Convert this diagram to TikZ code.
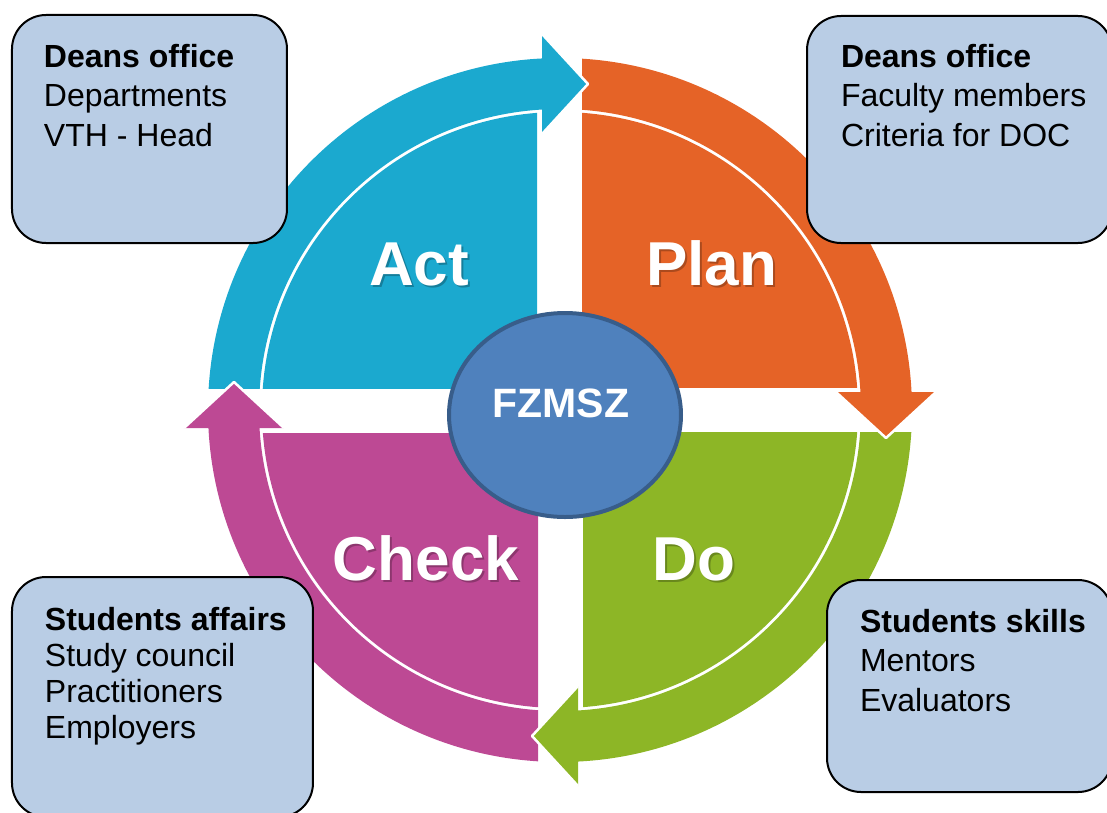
\documentclass[tikz,border=0pt]{standalone}
\usepackage{fontspec}
\setmainfont{Liberation Sans}
\usepackage{xcolor}
\usetikzlibrary{positioning, shapes.geometric}

\definecolor{actblue}{HTML}{1BA9CF}
\definecolor{planorange}{HTML}{E56327}
\definecolor{dogreen}{HTML}{8DB626}
\definecolor{checkpink}{HTML}{BD4994}
\definecolor{hubfill}{HTML}{4F81BD}
\definecolor{hubedge}{HTML}{385D8A}
\definecolor{notefill}{HTML}{B9CDE5}

\begin{document}
\begin{tikzpicture}[
      x=1pt, y=1pt,
      every node/.style={inner sep=0pt, outer sep=0pt},
      notebox/.style={rectangle, draw=black, line width=2pt, fill=notefill, rounded corners=34pt, anchor=north west},
      % base of a multi-line node is its last line
      notetext/.style={align=left, anchor=base west, font=\fontsize{32}{39.5}\selectfont},
      phase/.style={text=white, anchor=base, font=\fontsize{62}{62}\selectfont\bfseries},
      phaseshadow/.style={phase, text=black, opacity=.25}
    ]
    \useasboundingbox (-560,-402) rectangle (547,410);

    % quarter discs and bands, each one the Act quadrant turned clockwise
    \foreach \col/\ang in {actblue/0, planorange/-90, dogreen/-180, checkpink/-270} {
      \begin{scope}[rotate=\ang]
        \begin{scope}
          \clip (-23,22) rectangle (-400,400);
          \fill[\col] (0,0) circle (298);
        \end{scope}
        \begin{scope}
          \clip (-18,22) rectangle (-400,400);
          \fill[\col, even odd rule] (0,0) circle (352) circle (301);
        \end{scope}
      \end{scope}
    }

    % arrow heads over the next quadrant
    \foreach \col/\ang in {actblue/0, planorange/-90, dogreen/-180, checkpink/-270} {
      \begin{scope}[rotate=\ang]
        \fill[\col] (-18,376) -- (28,326) -- (-18,276) -- cycle;
        \draw[white, line width=2.5pt, line join=round] (-18,376) -- (28,326) -- (-18,276);
      \end{scope}
    }

    % phase names
    \node[phaseshadow] (actshadow) at (-139,123) {Act};
    \node[phase] (act) at (-141,125) {Act};
    \node[phaseshadow] (planshadow) at (153.5,123) {Plan};
    \node[phase] (plan) at (151.5,125) {Plan};
    \node[phaseshadow] (checkshadow) at (-132,-172) {Check};
    \node[phase] (check) at (-134,-170) {Check};
    \node[phaseshadow] (doshadow) at (136,-172) {Do};
    \node[phase] (do) at (134,-170) {Do};

    % centre
    \node[ellipse, draw=hubedge, line width=4pt, fill=hubfill, minimum width=232, minimum height=204] (hub) at (5,-5) {};
    \node[text=white, anchor=base, font=\fontsize{41}{41}\selectfont\bfseries] (hubname) at (1,-7) {FZMSZ};

    % corner notes
    \node[notebox, minimum width=275, minimum height=228] (actnote) at (-548,395) {};
    \node[notetext] (actnotetext) at ([xshift=32, yshift=-131]actnote.north west)
        {\textbf{Deans office}\\Departments\\VTH - Head};

    \node[notebox, minimum width=305, minimum height=227] (plannote) at (247,394) {};
    \node[notetext] (plannotetext) at ([xshift=34, yshift=-130]plannote.north west)
        {\textbf{Deans office}\\Faculty members\\Criteria for DOC};

    \node[notebox, minimum width=301, minimum height=240] (checknote) at (-548,-167) {};
    \node[notetext, font=\fontsize{32}{36}\selectfont] (checknotetext) at ([xshift=33, yshift=-161]checknote.north west)
        {\textbf{Students affairs}\\Study council\\Practitioners\\Employers};

    \node[notebox, minimum width=285, minimum height=212] (donote) at (267,-170) {};
    \node[notetext] (donotetext) at ([xshift=33, yshift=-131]donote.north west)
        {\textbf{Students skills}\\Mentors\\Evaluators};

\end{tikzpicture}
\end{document}
